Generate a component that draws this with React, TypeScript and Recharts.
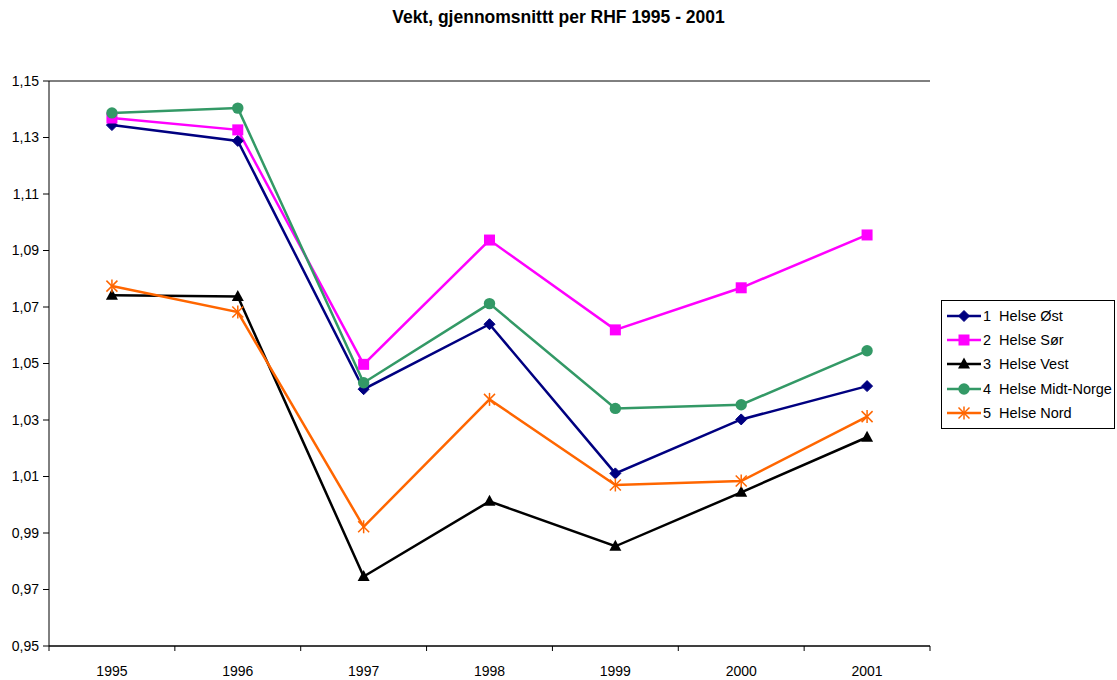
import React from 'react';
import { LineChart, Line, XAxis, YAxis, CartesianGrid } from 'recharts';

const years = ['1995', '1996', '1997', '1998', '1999', '2000', '2001'];
const helseOst = [1.1344, 1.1288, 1.0409, 1.0639, 1.0111, 1.0302, 1.042];
const helseSor = [1.1369, 1.1327, 1.0497, 1.0937, 1.0619, 1.0768, 1.0955];
const helseVest = [1.0742, 1.0737, 0.9746, 1.0012, 0.9853, 1.0044, 1.0239];
const helseMidtNorge = [1.1387, 1.1404, 1.0432, 1.0712, 1.0341, 1.0354, 1.0545];
const helseNord = [1.0774, 1.0682, 0.9922, 1.0373, 1.007, 1.0084, 1.0312];
const yTicks = [0.95, 0.97, 0.99, 1.01, 1.03, 1.05, 1.07, 1.09, 1.11, 1.13, 1.15];
const yearPositions = [0, 1, 2, 3, 4, 5, 6];
const boundaryTicks = [-0.5, 0.5, 1.5, 2.5, 3.5, 4.5, 5.5, 6.5];
const xTicks = [...boundaryTicks, ...yearPositions].sort((a, b) => a - b);

const series = [
  { key: 'ost', name: '1  Helse Øst', color: '#000080', shape: 'diamond', values: helseOst },
  { key: 'sor', name: '2  Helse Sør', color: '#FF00FF', shape: 'square', values: helseSor },
  { key: 'vest', name: '3  Helse Vest', color: '#000000', shape: 'triangle', values: helseVest },
  { key: 'midt', name: '4  Helse Midt-Norge', color: '#339966', shape: 'circle', values: helseMidtNorge },
  { key: 'nord', name: '5  Helse Nord', color: '#FF6600', shape: 'star', values: helseNord },
];

const data = years.map((y, i) => {
  const row: any = { year: y, pos: yearPositions[i] };
  series.forEach((s) => { row[s.key] = s.values[i]; });
  return row;
});

const FONT = 'Arial, "Liberation Sans", sans-serif';

function Marker({ shape, color, cx, cy }: { shape: string; color: string; cx: number; cy: number }) {
  switch (shape) {
    case 'diamond':
      return <polygon points={`${cx},${cy - 5.5} ${cx + 5.5},${cy} ${cx},${cy + 5.5} ${cx - 5.5},${cy}`} fill={color} stroke={color} strokeWidth={1} />;
    case 'square':
      return <rect x={cx - 5.5} y={cy - 5.5} width={11} height={11} fill={color} />;
    case 'triangle':
      return <polygon points={`${cx},${cy - 6.5} ${cx + 6},${cy + 4.5} ${cx - 6},${cy + 4.5}`} fill={color} />;
    case 'circle':
      return <circle cx={cx} cy={cy} r={5.7} fill={color} />;
    case 'star':
      return (
        <g stroke={color} strokeWidth={1.5}>
          <line x1={cx - 5.5} y1={cy - 5.5} x2={cx + 5.5} y2={cy + 5.5} />
          <line x1={cx - 5.5} y1={cy + 5.5} x2={cx + 5.5} y2={cy - 5.5} />
          <line x1={cx} y1={cy - 6.5} x2={cx} y2={cy + 6.5} />
        </g>
      );
    default:
      return null;
  }
}

const makeDot = (shape: string, color: string) => (props: any) => {
  const { cx, cy, index } = props;
  if (cx == null || cy == null) return <g key={index} />;
  return <Marker key={index} shape={shape} color={color} cx={cx} cy={cy} />;
};

const fmt = (v: number) => v.toFixed(2).replace('.', ',');

const XTick = (props: any) => {
  const { x, y, payload } = props;
  const v = payload?.value;
  if (Number.isInteger(v)) {
    return (
      <text x={x} y={y + 20} dy="0.71em" textAnchor="middle" fill="#000" fontSize={14} fontFamily={FONT}>
        {years[v]}
      </text>
    );
  }
  return <line x1={x} y1={y} x2={x} y2={y + 5} stroke="#000" strokeWidth={1} />;
};

const LegendBox = () => (
  <div
    style={{
      position: 'absolute',
      left: 941,
      top: 300,
      width: 174,
      boxSizing: 'border-box',
      border: '1px solid #000',
      background: '#fff',
      padding: '3px 0 3px 4px',
      fontFamily: FONT,
      fontSize: 14.5,
      color: '#000',
    }}
  >
    {series.map((s) => (
      <div key={s.key} style={{ display: 'flex', alignItems: 'center', height: 24.2 }}>
        <svg width={36} height={14} style={{ marginRight: 1, flex: 'none' }}>
          <line x1={1} y1={7} x2={35} y2={7} stroke={s.color} strokeWidth={2.5} />
          <Marker shape={s.shape} color={s.color} cx={18} cy={7} />
        </svg>
        <span style={{ whiteSpace: 'pre' }}>{s.name}</span>
      </div>
    ))}
  </div>
);

export default function App() {
  return (
    <div style={{ position: 'absolute', left: 0, top: 0, width: 1117, height: 680, background: '#fff' }}>
      <div
        style={{
          position: 'absolute',
          left: 0,
          top: 7,
          width: 1117,
          textAlign: 'center',
          fontFamily: FONT,
          fontWeight: 'bold',
          fontSize: 17.5,
          color: '#000',
        }}
      >
        Vekt, gjennomsnittt per RHF 1995 - 2001
      </div>
      <LineChart
        width={1117}
        height={680}
        data={data}
        margin={{ top: 81, right: 187, bottom: 0, left: 0 }}
        style={{ fontFamily: FONT, position: 'absolute', left: 0, top: 0 }}
      >
        <CartesianGrid vertical={false} stroke="#000" strokeWidth={1} />
        <XAxis
          xAxisId="cat"
          type="number"
          dataKey="pos"
          domain={[-0.5, 6.5]}
          ticks={xTicks}
          interval={0}
          allowDataOverflow
          height={34}
          axisLine={{ stroke: '#000' }}
          tickLine={false}
          tickSize={0}
          tickMargin={0}
          tick={<XTick />}
        />
        <YAxis
          yAxisId="left"
          width={49}
          domain={[0.95, 1.15]}
          ticks={yTicks}
          interval={0}
          tickFormatter={fmt}
          tickSize={6}
          tickMargin={4}
          axisLine={{ stroke: '#000' }}
          tickLine={{ stroke: '#000' }}
          tick={{ fill: '#000', fontSize: 14 }}
          allowDataOverflow
        />
        <YAxis
          yAxisId="right"
          orientation="right"
          width={0}
          domain={[0.95, 1.15]}
          tick={false}
          tickLine={false}
          axisLine={{ stroke: '#808080' }}
        />
        {series.map((s) => (
          <Line
            key={s.key}
            xAxisId="cat"
            yAxisId="left"
            type="linear"
            dataKey={s.key}
            name={s.name}
            stroke={s.color}
            strokeWidth={2.5}
            dot={makeDot(s.shape, s.color)}
            activeDot={false}
            isAnimationActive={false}
          />
        ))}
      </LineChart>
      <LegendBox />
    </div>
  );
}
